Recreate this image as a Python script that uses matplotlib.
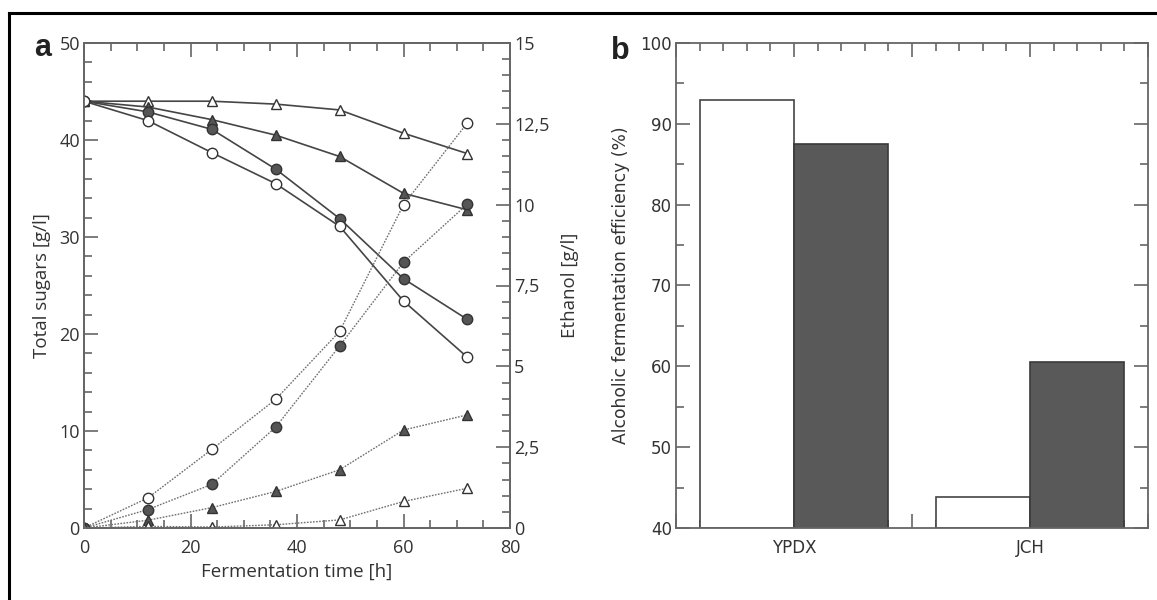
import matplotlib
matplotlib.use("Agg")
import matplotlib.pyplot as plt
from matplotlib.ticker import MultipleLocator, FuncFormatter, FixedLocator
from matplotlib.lines import Line2D

# ---------------- data ----------------
time_h = [0, 12, 24, 36, 48, 60, 72]

sugar_open_tri = [44.0, 44.0, 44.0, 43.7, 43.1, 40.7, 38.6]
sugar_filled_tri = [44.0, 43.4, 42.1, 40.5, 38.3, 34.5, 32.8]
sugar_filled_circ = [44.0, 42.9, 41.1, 37.0, 31.9, 25.7, 21.5]
sugar_open_circ = [44.0, 42.0, 38.7, 35.5, 31.1, 23.4, 17.6]

etoh_open_circ = [0.0, 0.93, 2.43, 3.98, 6.08, 10.0, 12.53]
etoh_filled_circ = [0.0, 0.57, 1.35, 3.12, 5.63, 8.22, 10.02]
etoh_filled_tri = [0.0, 0.24, 0.63, 1.13, 1.80, 3.03, 3.50]
etoh_open_tri = [0.0, 0.05, 0.03, 0.10, 0.25, 0.82, 1.23]

strains = ["YPDX", "JCH"]
eff_white = [93.0, 43.8]
eff_dark = [87.5, 60.5]

# ---------------- style ----------------
W, H = 1157, 600
fig = plt.figure(figsize=(W / 100, H / 100), dpi=100)

spine_c = "#666666"
text_c = "#333333"
line_c = "#454545"
dot_c = "#707070"
fill_c = "#555555"
edge_c = "#333333"

def fx(px):
    return px / W

def fy(py):
    return 1 - py / H

# figure border (left and top)
fig.add_artist(Line2D([fx(8.5), fx(8.5)], [0, fy(13)], color="black", lw=2.2,
                      transform=fig.transFigure))
fig.add_artist(Line2D([fx(8.5), 1], [fy(13), fy(13)], color="black", lw=2.2,
                      transform=fig.transFigure))

# ---------------- panel a ----------------
ax1 = fig.add_axes([fx(84), fy(528), fx(510 - 84), (528 - 43) / H])
ax2 = ax1.twinx()

font_a = "Open Sans"

def style_ticks(ax, **kw):
    ax.tick_params(which="major", direction="in", length=10, width=1.2,
                   color=spine_c, labelcolor=text_c, **kw)
    ax.tick_params(which="minor", direction="in", length=5.5, width=1.2,
                   color=spine_c, **kw)

for s in ax1.spines.values():
    s.set_color(spine_c)
    s.set_linewidth(1.3)
for s in ax2.spines.values():
    s.set_color(spine_c)
    s.set_linewidth(1.3)

ms = 7.5
common_solid = dict(color=line_c, lw=1.2, clip_on=True, zorder=3)
common_dot = dict(color=dot_c, lw=1.0, ls=(0, (1.2, 1.0)), clip_on=True, zorder=2)
filled = dict(markerfacecolor=fill_c, markeredgecolor=edge_c, markeredgewidth=1.0)
openm = dict(markerfacecolor="white", markeredgecolor=edge_c, markeredgewidth=1.0)

ax1.plot(time_h, sugar_open_tri, marker="^", ms=ms, **openm, **common_solid)
ax1.plot(time_h, sugar_filled_tri, marker="^", ms=ms, **filled, **common_solid)
ax1.plot(time_h, sugar_filled_circ, marker="o", ms=ms, **filled, **common_solid)
ax1.plot(time_h, sugar_open_circ, marker="o", ms=ms, **openm, **common_solid)

ax2.plot(time_h, etoh_open_circ, marker="o", ms=ms, **openm, **common_dot)
ax2.plot(time_h, etoh_filled_circ, marker="o", ms=ms, **filled, **common_dot)
ax2.plot(time_h, etoh_filled_tri, marker="^", ms=ms, **filled, **common_dot)
ax2.plot(time_h, etoh_open_tri, marker="^", ms=ms, **openm, **common_dot)

ax1.set_xlim(0, 80)
ax1.set_ylim(0, 50)
ax2.set_ylim(0, 15)

ax1.xaxis.set_major_locator(MultipleLocator(20))
ax1.xaxis.set_minor_locator(MultipleLocator(5))
ax1.yaxis.set_major_locator(MultipleLocator(10))
ax1.yaxis.set_minor_locator(MultipleLocator(2))
ax2.yaxis.set_major_locator(MultipleLocator(2.5))
ax2.yaxis.set_minor_locator(MultipleLocator(0.5))
ax2.yaxis.set_major_formatter(FuncFormatter(
    lambda v, p: (f"{v:.1f}".replace(".", ",") if v % 1 else f"{int(v)}")))

style_ticks(ax1, top=True, bottom=True, left=True, right=False,
            labelsize=13, pad=3)
style_ticks(ax2, left=False, right=True, labelsize=13, pad=3)
ax1.tick_params(axis="x", pad=8)

for lab in ax1.get_xticklabels() + ax1.get_yticklabels() + ax2.get_yticklabels():
    lab.set_fontfamily(font_a)

ax1.set_xlabel("Fermentation time [h]", fontsize=13.5, color=text_c,
               fontfamily=font_a, labelpad=4)
ax1.set_ylabel("Total sugars [g/l]", fontsize=13.5, color=text_c,
               fontfamily=font_a, labelpad=6)
ax2.set_ylabel("Ethanol [g/l]", fontsize=13.5, color=text_c,
               fontfamily=font_a, labelpad=8)

fig.text(fx(34), fy(56), "a", fontsize=22, fontweight="bold",
         fontfamily="Liberation Sans", color="#222222", ha="left", va="baseline")

# ---------------- panel b ----------------
ax3 = fig.add_axes([fx(676), fy(528), fx(1148 - 676), (528 - 43) / H])
for s in ax3.spines.values():
    s.set_color(spine_c)
    s.set_linewidth(1.3)

centers = [5 + 10 * i for i in range(len(strains))]
bw = 4
ax3.bar([c - bw / 2 for c in centers], [v - 40 for v in eff_white], bottom=40,
        width=bw, color="white", edgecolor="#444444", linewidth=1.2, zorder=2)
ax3.bar([c + bw / 2 for c in centers], [v - 40 for v in eff_dark], bottom=40,
        width=bw, color="#595959", edgecolor="#3a3a3a", linewidth=1.2, zorder=2)

ax3.set_xlim(0, 20)
ax3.set_ylim(40, 100)
ax3.xaxis.set_major_locator(FixedLocator([0, 5, 10, 15, 20]))
ax3.set_xticklabels(["", strains[0], "", strains[1], ""])
ax3.xaxis.set_minor_locator(MultipleLocator(1))
ax3.yaxis.set_major_locator(MultipleLocator(10))
ax3.yaxis.set_minor_locator(MultipleLocator(5))
style_ticks(ax3, top=True, bottom=True, left=True, right=True,
            labelsize=12, pad=3)
ax3.tick_params(axis="x", which="major", pad=8)
for lab in ax3.get_xticklabels() + ax3.get_yticklabels():
    lab.set_fontfamily("DejaVu Sans")
ax3.set_ylabel("Alcoholic fermentation efficiency (%)", fontsize=12.3,
               color=text_c, fontfamily="DejaVu Sans", labelpad=7)

fig.text(fx(611), fy(59), "b", fontsize=22, fontweight="bold",
         fontfamily="Liberation Sans", color="#222222", ha="left", va="baseline")

fig.savefig("out.png", dpi=100)
